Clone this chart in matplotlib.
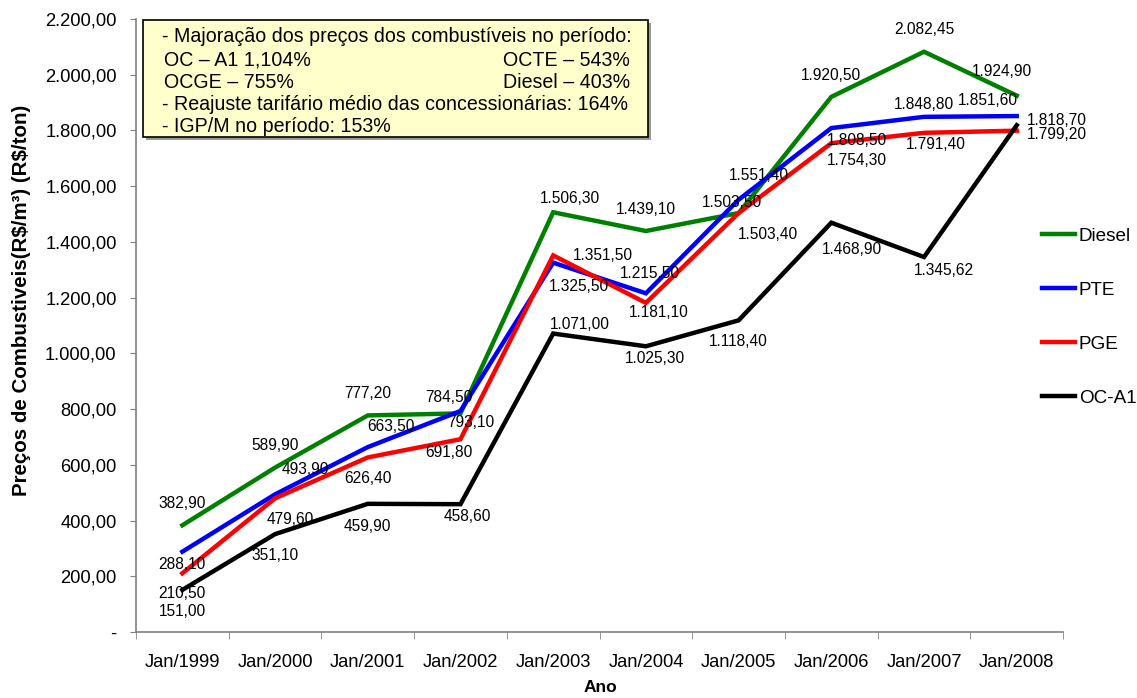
import numpy as np
import matplotlib
matplotlib.use("Agg")
import matplotlib.pyplot as plt
from matplotlib.ticker import FuncFormatter, FixedLocator
from matplotlib.patches import Rectangle

plt.rcParams['font.family'] = ['Liberation Sans', 'DejaVu Sans']

# Preços médios por ano
anos = ['Jan/1999', 'Jan/2000', 'Jan/2001', 'Jan/2002', 'Jan/2003',
        'Jan/2004', 'Jan/2005', 'Jan/2006', 'Jan/2007', 'Jan/2008']
diesel = [382.90, 589.90, 777.20, 784.50, 1506.30, 1439.10, 1503.50, 1920.50, 2082.45, 1924.90]
pte = [288.10, 493.90, 663.50, 793.10, 1325.50, 1215.50, 1551.40, 1808.50, 1848.80, 1851.60]
pge = [210.50, 479.60, 626.40, 691.80, 1351.50, 1181.10, 1503.40, 1754.30, 1791.40, 1799.20]
oca1 = [151.00, 351.10, 459.90, 458.60, 1071.00, 1025.30, 1118.40, 1468.90, 1345.62, 1818.70]

series = [('Diesel', diesel, '#008000'),
          ('PTE', pte, '#0000FF'),
          ('PGE', pge, '#FF0000'),
          ('OC-A1', oca1, '#000000')]

# deslocamento dos rótulos (pixels)
desloc = {
    'Diesel': [(0, 22), (0, 22), (0, 22), (-12, 16), (17, 14), (0, 21), (-7, 11), (0, 21), (0, 22), (-15, 24)],
    'PTE': [(0, -13), (30, 25), (23, 21), (10, -12), (26, -24), (4, 20), (20, 24), (26, -12), (0, 12), (-29, 16)],
    'PGE': [(0, -20), (15, -21), (0, -21), (-12, -13), (50, 0), (13, -10), (29, -21), (26, -17), (12, -12), (40, -4)],
    'OC-A1': [(0, -22), (0, -21), (0, -23), (7, -12), (27, 9), (9, -12), (0, -21), (21, -27), (20, -13), (40, 5)],
}


def br(v, dec=2):
    s = f"{v:,.{dec}f}"
    return s.replace(',', 'X').replace('.', ',').replace('X', '.')


fig = plt.figure(figsize=(11.37, 6.98), dpi=100)
ax = fig.add_axes([0.1196, 0.0946, 0.8154, 0.8782])

x = np.arange(len(anos))
for nome, vals, cor in series:
    ax.plot(x, vals, color=cor, lw=3.2, label=nome, solid_joinstyle='miter', zorder=3)
    for i, v in enumerate(vals):
        dx, dy = desloc[nome][i]
        ax.annotate(br(v), (x[i], v), xytext=(dx, dy), textcoords='offset pixels',
                    ha='center', va='center', fontsize=11.2, color='black', zorder=4)

ax.set_xlim(-0.5, len(anos) - 0.5)
ax.set_ylim(0, 2200)
ax.yaxis.set_major_locator(FixedLocator(np.arange(0, 2201, 200)))
ax.yaxis.set_major_formatter(FuncFormatter(lambda v, p: '-' if v == 0 else br(v)))
ax.set_xticks(x)
ax.set_xticklabels(anos)
ax.set_xticks(np.arange(-0.5, len(anos)), minor=True)
ax.tick_params(axis='x', which='major', length=0, pad=16, labelsize=13.2)
ax.tick_params(axis='x', which='minor', length=5, color='#808080')
ax.tick_params(axis='y', length=4, color='#808080', labelsize=13.2, pad=10)

for s in ['top', 'right']:
    ax.spines[s].set_visible(False)
for s in ['left', 'bottom']:
    ax.spines[s].set_color('#808080')
    ax.spines[s].set_linewidth(1.2)

fig.text(22 / 1137, 1 - 300 / 698, 'Preços de Combustiveis(R\\$/m³) (R\\$/ton)', rotation=90,
         ha='center', va='center', fontsize=14.8, fontweight='bold')
fig.text(600 / 1137, 1 - 688 / 698, 'Ano', ha='center', va='center',
         fontsize=12.5, fontweight='bold')

leg = ax.legend(loc='center left', bbox_to_anchor=(1042 / 1137, 1 - 317 / 698),
                bbox_transform=fig.transFigure, frameon=False, fontsize=13.6,
                handlelength=1.75, handletextpad=0.2, labelspacing=1.95,
                borderpad=0, borderaxespad=0)

# quadro de observações
bx0, bx1 = 143 / 1137, 648 / 1137
by0, by1 = 1 - 137 / 698, 1 - 20 / 698
fig.patches.append(Rectangle((bx0 + 3 / 1137, by0 - 3 / 698), bx1 - bx0, by1 - by0,
                             transform=fig.transFigure, facecolor='#9a9a9a',
                             edgecolor='none', zorder=5))
fig.patches.append(Rectangle((bx0, by0), bx1 - bx0, by1 - by0, transform=fig.transFigure,
                             facecolor='#FFFFCC', edgecolor='black', lw=1.2, zorder=6))
linhas_y = [37, 60, 82, 105, 127]
txt_kw = dict(fontsize=14.1, va='center', zorder=7)
fig.text(162 / 1137, 1 - linhas_y[0] / 698, '- Majoração dos preços dos combustíveis no período:', ha='left', **txt_kw)
fig.text(164 / 1137, 1 - linhas_y[1] / 698, 'OC – A1 1,104%', ha='left', **txt_kw)
fig.text(630 / 1137, 1 - linhas_y[1] / 698, 'OCTE – 543%', ha='right', **txt_kw)
fig.text(164 / 1137, 1 - linhas_y[2] / 698, 'OCGE – 755%', ha='left', **txt_kw)
fig.text(630 / 1137, 1 - linhas_y[2] / 698, 'Diesel – 403%', ha='right', **txt_kw)
fig.text(162 / 1137, 1 - linhas_y[3] / 698, '- Reajuste tarifário médio das concessionárias: 164%', ha='left', **txt_kw)
fig.text(162 / 1137, 1 - linhas_y[4] / 698, '- IGP/M no período: 153%', ha='left', **txt_kw)

fig.savefig('out.png', dpi=100)
